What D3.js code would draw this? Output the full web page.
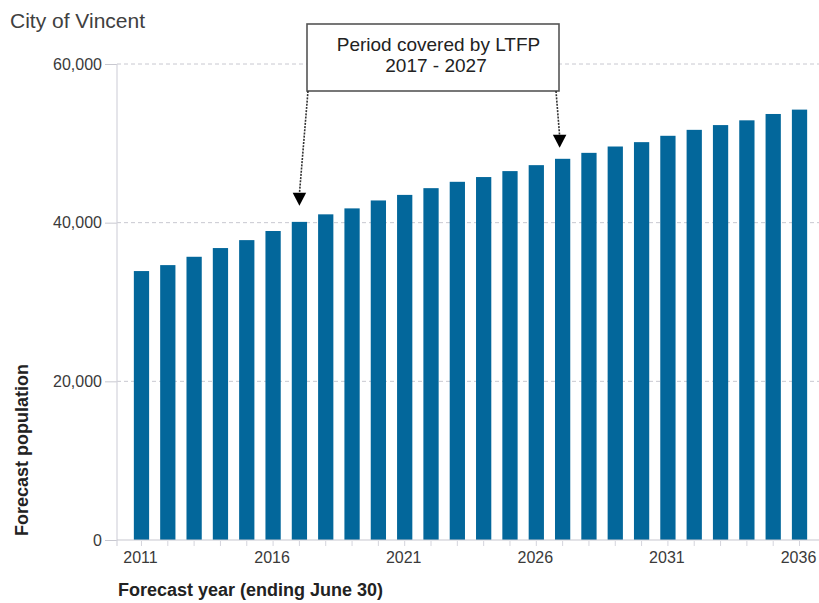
<!DOCTYPE html>
<html>
<head>
<meta charset="utf-8">
<script src="https://cdn.jsdelivr.net/npm/d3@7"></script>
<style>
  html, body { margin: 0; padding: 0; background: #fff; }
  svg { display: block; font-family: "Liberation Sans", Arial, sans-serif; }
</style>
</head>
<body>
<svg id="chart" width="819" height="603"></svg>
<script>
const years = [2011,2012,2013,2014,2015,2016,2017,2018,2019,2020,2021,2022,2023,2024,2025,2026,2027,2028,2029,2030,2031,2032,2033,2034,2035,2036];
const population = [33900,34650,35700,36800,37800,38950,40100,41050,41800,42800,43500,44350,45150,45750,46500,47250,48050,48800,49600,50150,50950,51700,52300,52900,53700,54250];
const yTicks = [0, 20000, 40000, 60000];
const yGrid = [20000, 40000, 60000];
const xLabelYears = [2011, 2016, 2021, 2026, 2031, 2036];
const titleText = "City of Vincent";
const xTitle = "Forecast year (ending June 30)";
const yTitle = "Forecast population";
const noteLines = ["Period covered by LTFP", "2017 - 2027"];
const noteYears = [2017, 2027];

(function () {
const svg = d3.select("#chart");
const pLeft = 117, pRight = 819, pTop = 64, pBottom = 540;

const x = d3.scaleBand().domain(years).range([pLeft, 824]).paddingInner(0.42).paddingOuter(0.64);
const y = d3.scaleLinear().domain([0, 60000]).range([pBottom, pTop]);

// title
svg.append("text").attr("x", 10).attr("y", 28).attr("font-size", 21).attr("fill", "#404040").text(titleText);

// gridlines
svg.append("g").selectAll("line").data(yGrid).join("line")
  .attr("x1", pLeft).attr("x2", pRight)
  .attr("y1", d => y(d)).attr("y2", d => y(d))
  .attr("stroke", "#c8c8d0").attr("stroke-width", 1).attr("stroke-dasharray", "4,3");

// y axis
const yAxis = svg.append("g").attr("transform", `translate(${pLeft},0)`)
  .call(d3.axisLeft(y).tickValues(yTicks).tickSize(12).tickPadding(3).tickFormat(d3.format(",")));
yAxis.select(".domain").remove();
yAxis.selectAll(".tick line").attr("stroke", "#c8c8d0");
yAxis.selectAll(".tick text").attr("font-size", 16).attr("fill", "#3a3a3a").attr("font-family", "Liberation Sans, Arial, sans-serif");
svg.append("line").attr("x1", pLeft).attr("x2", pLeft).attr("y1", pTop).attr("y2", pBottom + 6)
  .attr("stroke", "#d4d4dc").attr("stroke-width", 1.2);

// bars
svg.append("g").selectAll("rect").data(years).join("rect")
  .attr("x", d => x(d))
  .attr("width", x.bandwidth())
  .attr("y", (d, i) => y(population[i]))
  .attr("height", (d, i) => y(0) - y(population[i]))
  .attr("fill", "#03679b");

// x axis
svg.append("line").attr("x1", pLeft).attr("x2", pRight).attr("y1", pBottom).attr("y2", pBottom)
  .attr("stroke", "#c8c8d0").attr("stroke-width", 1.2);
svg.append("g").selectAll("line").data(years).join("line")
  .attr("x1", d => x(d) + x.bandwidth() / 2).attr("x2", d => x(d) + x.bandwidth() / 2)
  .attr("y1", pBottom + 1).attr("y2", pBottom + 6)
  .attr("stroke", "#d4d4dc").attr("stroke-width", 1);
svg.append("g").selectAll("text").data(xLabelYears).join("text")
  .attr("x", d => x(d) + x.bandwidth() / 2 - 1)
  .attr("y", 563)
  .attr("text-anchor", "middle")
  .attr("font-size", 16).attr("fill", "#3a3a3a")
  .text(d => d);

// axis titles
svg.append("text").attr("x", 118).attr("y", 596).attr("font-size", 18).attr("font-weight", "bold")
  .attr("fill", "#222").text(xTitle);
svg.append("text").attr("transform", "translate(28,450) rotate(-90)").attr("text-anchor", "middle")
  .attr("font-size", 18).attr("font-weight", "bold").attr("fill", "#222").text(yTitle);

// annotation
const bx = 307, by = 24, bw = 252, bh = 67;
svg.append("rect").attr("x", bx).attr("y", by).attr("width", bw).attr("height", bh)
  .attr("fill", "#fff").attr("stroke", "#555").attr("stroke-width", 1.6);
svg.append("text").attr("x", 438.5).attr("y", 51).attr("text-anchor", "middle")
  .attr("font-size", 19).attr("fill", "#222").text(noteLines[0]);
svg.append("text").attr("x", 436).attr("y", 72).attr("text-anchor", "middle")
  .attr("font-size", 19).attr("fill", "#222").text(noteLines[1]);

const starts = [[bx + 1, by + bh], [bx + bw - 3, by + bh]];
const tipGap = [16, 11];
const tipShift = [0, -3];
noteYears.forEach((yr, k) => {
  const i = years.indexOf(yr);
  const tx = x(yr) + x.bandwidth() / 2 + tipShift[k];
  const ty = y(population[i]) - tipGap[k];
  const headH = 13, headW = 13.5;
  svg.append("line").attr("x1", starts[k][0]).attr("y1", starts[k][1])
    .attr("x2", tx).attr("y2", ty - headH + 1)
    .attr("stroke", "#333").attr("stroke-width", 1.6).attr("stroke-dasharray", "2,1.2");
  svg.append("path")
    .attr("d", `M${tx - headW / 2},${ty - headH} L${tx + headW / 2},${ty - headH} L${tx},${ty} Z`)
    .attr("fill", "#000");
});
})();
</script>
</body>
</html>
